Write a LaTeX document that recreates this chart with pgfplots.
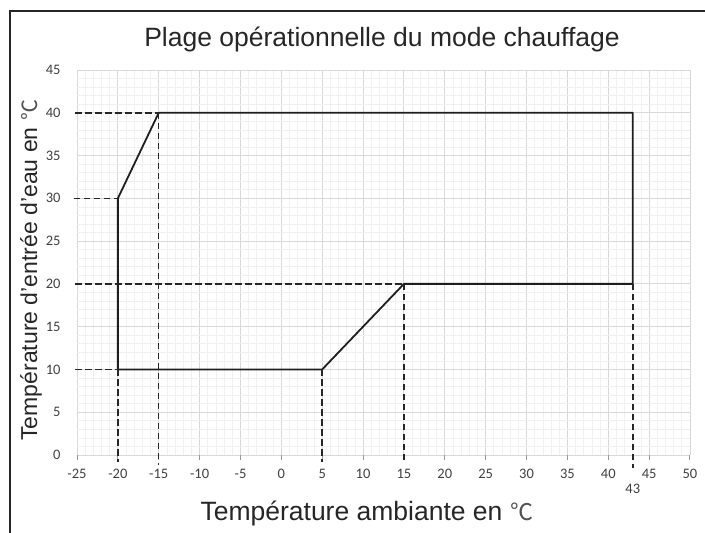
\documentclass[border=0pt]{standalone}
\usepackage{fontspec}
\setmainfont{Liberation Sans}
\newfontfamily\calib{Carlito}
\newfontfamily\cjk{Noto Sans CJK SC}
\usepackage{pgfplots}
\pgfplotsset{compat=1.18}
\definecolor{txt}{HTML}{262626}
\definecolor{ticktxt}{HTML}{404040}
\definecolor{majg}{HTML}{D9D9D9}
\definecolor{ming}{HTML}{F0F0F0}
\begin{document}
\begin{tikzpicture}[x=1pt,y=1pt]
\useasboundingbox (0,0) rectangle (705,533);
\draw[line width=1.3pt, black!85] (10,0) -- (10,522) -- (705,522);
\node[anchor=base, text=txt, font=\fontsize{26.5}{30}\selectfont] at (382,486) {Plage opérationnelle du mode chauffage};
\node[anchor=base, text=txt, font=\fontsize{26.5}{30}\selectfont] at (367,12) {Température ambiante en\hspace{0.3em}{\cjk\fontsize{23}{26}\selectfont\color{txt!80}℃}};
\node[anchor=base, rotate=90, text=txt, font=\fontsize{23}{27}\selectfont] at (37,263) {Température d’entrée d’eau en\hspace{0.3em}{\cjk\fontsize{21}{24}\selectfont\color{txt!80}℃}};
\begin{axis}[at={(77pt,78pt)}, anchor=south west, width=613pt, height=385pt, scale only axis,
  xmin=-25, xmax=50, ymin=0, ymax=45,
  xtick={-25,-20,-15,-10,-5,0,5,10,15,20,25,30,35,40,45,50},
  xticklabels={-25,-20,-15,-10,-5,0,5,10,15,20,25,30,35,40,45,50},
  ytick={0,5,10,15,20,25,30,35,40,45},
  yticklabels={0,5,10,15,20,25,30,35,40,45},
  minor x tick num=4, minor y tick num=4,
  grid=both,
  major grid style={majg, line width=0.9pt},
  minor grid style={ming, line width=0.7pt},
  axis line style={draw=none},
  xtick pos=lower, tick align=outside,
  major tick length=5pt, minor tick length=0pt,
  xtick style={draw=gray!80, line width=1pt},
  ytick style={draw=none},
  ticklabel style={font=\calib\fontsize{14.5}{16}\selectfont, text=ticktxt},
  xticklabel style={yshift=-6pt},
  yticklabel style={xshift=-8pt},
  extra x ticks={45}, extra x tick labels={},
  extra x tick style={grid=none, tick style={draw=black, line width=1.6pt}},
  clip=false,
]
\addplot[line width=1.8pt, color=black!88, line join=round] coordinates {(-20,10) (-20,30) (-15,40) (43,40) (43,20) (15,20) (5,10) (-20,10)};
\addplot[line width=1.5pt, color=black!85, dash pattern=on 6.5pt off 3.5pt] coordinates {(-25.2,40) (-15,40)};
\addplot[line width=1.5pt, color=black!85, dash pattern=on 6.5pt off 3.5pt] coordinates {(-25.4,30) (-20,30)};
\addplot[line width=1.5pt, color=black!85, dash pattern=on 6.5pt off 3.5pt] coordinates {(-25.2,20) (15,20)};
\addplot[line width=1.5pt, color=black!85, dash pattern=on 6.5pt off 3.5pt] coordinates {(-25.2,10) (-20,10)};
\addplot[line width=1.5pt, color=black!85, dash pattern=on 6.5pt off 3.5pt] coordinates {(-20,10) (-20,-0.8)};
\addplot[line width=1.5pt, color=black!85, dash pattern=on 6.5pt off 3.5pt] coordinates {(-15,40) (-15,-1.2)};
\addplot[line width=1.5pt, color=black!85, dash pattern=on 6.5pt off 3.5pt] coordinates {(5,10) (5,-0.8)};
\addplot[line width=1.5pt, color=black!85, dash pattern=on 6.5pt off 3.5pt] coordinates {(15,20) (15,-0.6)};
\addplot[line width=1.5pt, color=black!85, dash pattern=on 6.5pt off 3.5pt] coordinates {(43,20) (43,-1.5)};
\node[font=\calib\fontsize{14.5}{16}\selectfont, text=ticktxt] at (axis cs:43,-3.9) {43};
\end{axis}
\end{tikzpicture}
\end{document}
